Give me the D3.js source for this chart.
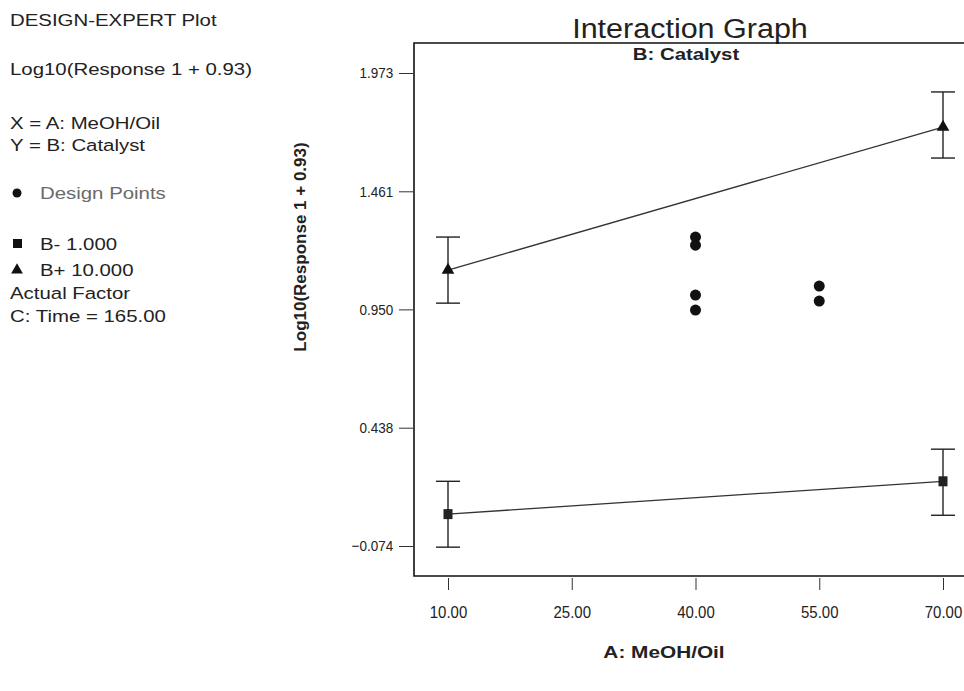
<!DOCTYPE html>
<html>
<head>
<meta charset="utf-8">
<script src="https://cdn.jsdelivr.net/npm/d3@7"></script>
<style>
  body { margin: 0; background: #fff; }
  svg { display: block; font-family: "Liberation Sans", Arial, sans-serif; }
</style>
</head>
<body>
<svg id="chart" width="964" height="691"></svg>
<script>
// Data
let xTicks = [10, 25, 40, 55, 70];
let yTicks = [-0.074, 0.438, 0.950, 1.461, 1.973];
let factorA = [10, 70];
// B- (1.000) predicted means and interval ends
let bMinus = [0.064, 0.206];
let bMinusLo = [-0.079, 0.059];
let bMinusHi = [0.206, 0.345];
// B+ (10.000)
let bPlus = [1.120, 1.739];
let bPlusLo = [0.977, 1.605];
let bPlusHi = [1.263, 1.891];
// design points
let designX = [40, 40, 40, 40, 55, 55];
let designY = [1.263, 1.228, 1.012, 0.947, 1.051, 0.986];

let legendLines = [
    { text: "DESIGN-EXPERT Plot", y: 26 },
    { text: "Log10(Response 1 + 0.93)", y: 75 },
    { text: "X = A: MeOH/Oil", y: 129 },
    { text: "Y = B: Catalyst", y: 151 },
    { text: "Design Points", y: 199, sym: "circle", fill: "#6a6a6a" },
    { text: "B- 1.000", y: 250, sym: "square" },
    { text: "B+ 10.000", y: 276, sym: "triangle" },
    { text: "Actual Factor", y: 299 },
    { text: "C: Time = 165.00", y: 322 }
];

// Layout
let frame = { left: 414, top: 43, right: 975, bottom: 576 };
let stretch = 1.2; // the scan is wider than tall

let svg = d3.select("#chart");

let x = d3.scaleLinear().domain([10, 70]).range([448, 943]);
let y = d3.scaleLinear().domain([-0.074, 1.973]).range([546, 73]);

function wideText(parent, tx, ty, sx) {
    return parent.append("text")
        .attr("transform", `translate(${tx},${ty}) scale(${sx},1)`);
}

// Left info panel
let info = svg.append("g").attr("fill", "#222").attr("font-size", "17px");
legendLines.forEach(d => {
    let tx = d.sym ? 40 : 10;
    wideText(info, tx, d.y, stretch)
        .attr("fill", d.fill || "#222")
        .text(d.text);
    if (d.sym == "circle") {
        info.append("circle").attr("cx", 17).attr("cy", d.y - 6).attr("r", 4.5).attr("fill", "#111");
    } else if (d.sym == "square") {
        info.append("rect").attr("x", 13).attr("y", d.y - 11).attr("width", 9).attr("height", 9).attr("fill", "#111");
    } else if (d.sym == "triangle") {
        info.append("path").attr("d", d3.symbol(d3.symbolTriangle, 60)()).attr("transform", `translate(17,${d.y - 6})`).attr("fill", "#111");
    }
});

// Titles
wideText(svg, 690, 38, 1.13)
    .attr("text-anchor", "middle")
    .attr("font-size", "27px")
    .attr("fill", "#222")
    .text("Interaction Graph");

wideText(svg, 686, 60, 1.2)
    .attr("text-anchor", "middle")
    .attr("font-size", "17px")
    .attr("font-weight", "bold")
    .attr("fill", "#222")
    .text("B: Catalyst");

svg.append("text")
    .attr("transform", "translate(306,247) rotate(-90)")
    .attr("text-anchor", "middle")
    .attr("font-size", "17px")
    .attr("font-weight", "bold")
    .attr("fill", "#222")
    .text("Log10(Response 1 + 0.93)");

wideText(svg, 664, 658, 1.3)
    .attr("text-anchor", "middle")
    .attr("font-size", "16px")
    .attr("font-weight", "bold")
    .attr("fill", "#222")
    .text("A: MeOH/Oil");

// Frame
svg.append("path")
    .attr("d", `M${frame.right},${frame.top}H${frame.left}V${frame.bottom}H${frame.right}`)
    .attr("fill", "none")
    .attr("stroke", "#111")
    .attr("stroke-width", 1.6);

// Axes
let yAxis = svg.append("g")
    .attr("transform", `translate(${frame.left - 1},0)`)
    .call(d3.axisLeft(y).tickValues(yTicks).tickFormat(d3.format(".3f")).tickSize(14).tickPadding(8));
yAxis.select(".domain").remove();
yAxis.selectAll("text").attr("font-size", "15px").attr("fill", "#222")
    .attr("font-family", "'Liberation Sans', Arial, sans-serif")
    .attr("transform", "scale(0.9,1)");
yAxis.selectAll("line").attr("stroke", "#333");

let xAxis = svg.append("g")
    .attr("transform", `translate(0,${frame.bottom + 2})`)
    .call(d3.axisBottom(x).tickValues(xTicks).tickFormat(d3.format(".2f")).tickSize(12).tickPadding(16));
xAxis.select(".domain").remove();
xAxis.selectAll("text").attr("font-size", "17px").attr("fill", "#222")
    .attr("font-family", "'Liberation Sans', Arial, sans-serif")
    .attr("transform", "scale(0.88,1)");
xAxis.selectAll("line").attr("stroke", "#333");

// Fitted lines
let line = d3.line().x((d, i) => x(factorA[i])).y(d => y(d));
let plot = svg.append("g");
[bMinus, bPlus].forEach(series => {
    plot.append("path")
        .datum(series)
        .attr("d", line)
        .attr("fill", "none")
        .attr("stroke", "#333")
        .attr("stroke-width", 1.3);
});

// Error bars
let bars = [];
factorA.forEach((a, i) => {
    bars.push({ a: a, lo: bMinusLo[i], hi: bMinusHi[i] });
    bars.push({ a: a, lo: bPlusLo[i], hi: bPlusHi[i] });
});
let eb = plot.selectAll(".eb").data(bars).enter().append("g").attr("class", "eb")
    .attr("stroke", "#222").attr("stroke-width", 1.4);
eb.append("line").attr("x1", d => x(d.a)).attr("x2", d => x(d.a)).attr("y1", d => y(d.lo)).attr("y2", d => y(d.hi));
eb.append("line").attr("x1", d => x(d.a) - 12).attr("x2", d => x(d.a) + 12).attr("y1", d => y(d.lo)).attr("y2", d => y(d.lo));
eb.append("line").attr("x1", d => x(d.a) - 12).attr("x2", d => x(d.a) + 12).attr("y1", d => y(d.hi)).attr("y2", d => y(d.hi));

// Markers
plot.selectAll(".sq").data(bMinus).enter().append("rect")
    .attr("x", (d, i) => x(factorA[i]) - 4.5)
    .attr("y", d => y(d) - 5)
    .attr("width", 9).attr("height", 10)
    .attr("fill", "#222");

plot.selectAll(".tri").data(bPlus).enter().append("path")
    .attr("d", d3.symbol(d3.symbolTriangle, 70)())
    .attr("transform", (d, i) => `translate(${x(factorA[i])},${y(d)})`)
    .attr("fill", "#111");

plot.selectAll(".dp").data(designY).enter().append("circle")
    .attr("cx", (d, i) => x(designX[i]))
    .attr("cy", d => y(d))
    .attr("r", 5.5)
    .attr("fill", "#111");
</script>
</body>
</html>
